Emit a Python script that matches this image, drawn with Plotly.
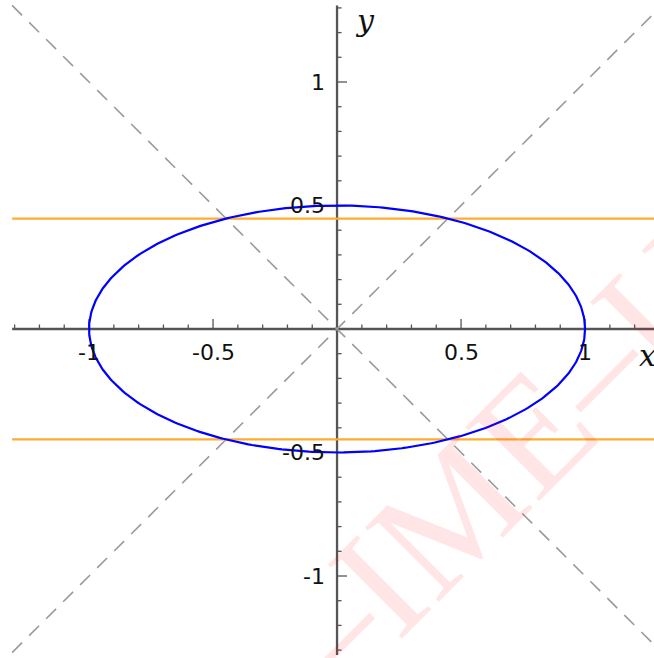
import numpy as np
import plotly.graph_objects as go

# Ellipse x^2/a^2 + y^2/b^2 = 1
semi_a = 1.0
semi_b = 0.5
# Horizontal levels through the ellipse / diagonal intersections
levels = [0.447, -0.447]
# Diagonal reference lines y = m*x
slopes = [1.0, -1.0]
# Axis extents and tick values
x_extent = [-1.31, 1.32]
y_extent = [-1.32, 1.31]
major_ticks = [-1.0, -0.5, 0.5, 1.0]
tick_labels = ["-1", "-0.5", "0.5", "1"]
minor_step = 0.1

W, H = 654, 658
x_range = [-1.359, 1.278]
y_range = [-1.332, 1.332]
px_x = (x_range[1] - x_range[0]) / W
px_y = (y_range[1] - y_range[0]) / H

fig = go.Figure()

# axis lines
fig.add_trace(go.Scatter(x=[x_extent[0], x_extent[1]], y=[0, 0], mode="lines",
                         line=dict(color="#555555", width=2.3), hoverinfo="skip"))
fig.add_trace(go.Scatter(x=[0, 0], y=[y_extent[0], y_extent[1]], mode="lines",
                         line=dict(color="#555555", width=2.3), hoverinfo="skip"))

# tick marks: x ticks point up, y ticks point right
minor_vals = np.round(np.arange(-1.3, 1.3001, minor_step), 2)
tx, ty = [], []
for v in minor_vals:
    if abs(v) < 1e-9:
        continue
    ln = 10 if any(abs(v - m) < 1e-9 for m in major_ticks) else 4.5
    tx += [v, v, None]
    ty += [0, ln * px_y, None]
    tx += [0, ln * px_x, None]
    ty += [v, v, None]
fig.add_trace(go.Scatter(x=tx, y=ty, mode="lines",
                         line=dict(color="#555555", width=1.3), hoverinfo="skip"))

# diagonal dashed lines
for m in slopes:
    xs = np.array([-1.31, 1.31])
    fig.add_trace(go.Scatter(x=xs, y=m * xs, mode="lines",
                             line=dict(color="#9a9a9a", width=1.6, dash="14px,10px"),
                             hoverinfo="skip"))

# horizontal levels
for lv in levels:
    fig.add_trace(go.Scatter(x=[-1.31, 1.32], y=[lv, lv], mode="lines",
                             line=dict(color="#ffab2e", width=2.4), hoverinfo="skip"))

# ellipse
t = np.linspace(0, 2 * np.pi, 400)
fig.add_trace(go.Scatter(x=semi_a * np.cos(t), y=semi_b * np.sin(t), mode="lines",
                         line=dict(color="#0000ff", width=2.2), hoverinfo="skip"))

annotations = []
lab_font = dict(family="DejaVu Sans", size=22, color="#111111")
for v, s in zip(major_ticks, tick_labels):
    annotations.append(dict(x=v, y=-23 * px_y, text=s, showarrow=False,
                            xanchor="center", yanchor="middle", font=lab_font))
    annotations.append(dict(x=-10 * px_x, y=v, text=s, showarrow=False,
                            xanchor="right", yanchor="middle", font=lab_font))

ax_font = dict(family="DejaVu Serif", size=30, color="#111111")
annotations.append(dict(x=16 * px_x, y=1.25, text="<i>y</i>", showarrow=False,
                        xanchor="left", yanchor="middle", font=ax_font))
annotations.append(dict(x=1.21, y=-26 * px_y, text="<i>x</i>", showarrow=False,
                        xanchor="left", yanchor="middle", font=ax_font))

# watermark
annotations.append(dict(xref="paper", yref="paper", x=566 / W, y=1 - 398 / H,
                        text="–IME–USP", showarrow=False, textangle=-45,
                        xanchor="center", yanchor="middle",
                        font=dict(family="Liberation Serif", size=160,
                                  color="rgba(255,0,0,0.1)")))

fig.update_layout(
    width=W, height=H, margin=dict(l=0, r=0, t=0, b=0),
    plot_bgcolor="white", paper_bgcolor="white", showlegend=False,
    xaxis=dict(range=x_range, visible=False, fixedrange=True),
    yaxis=dict(range=y_range, visible=False, fixedrange=True),
    annotations=annotations,
)

fig.write_html("out.html")
